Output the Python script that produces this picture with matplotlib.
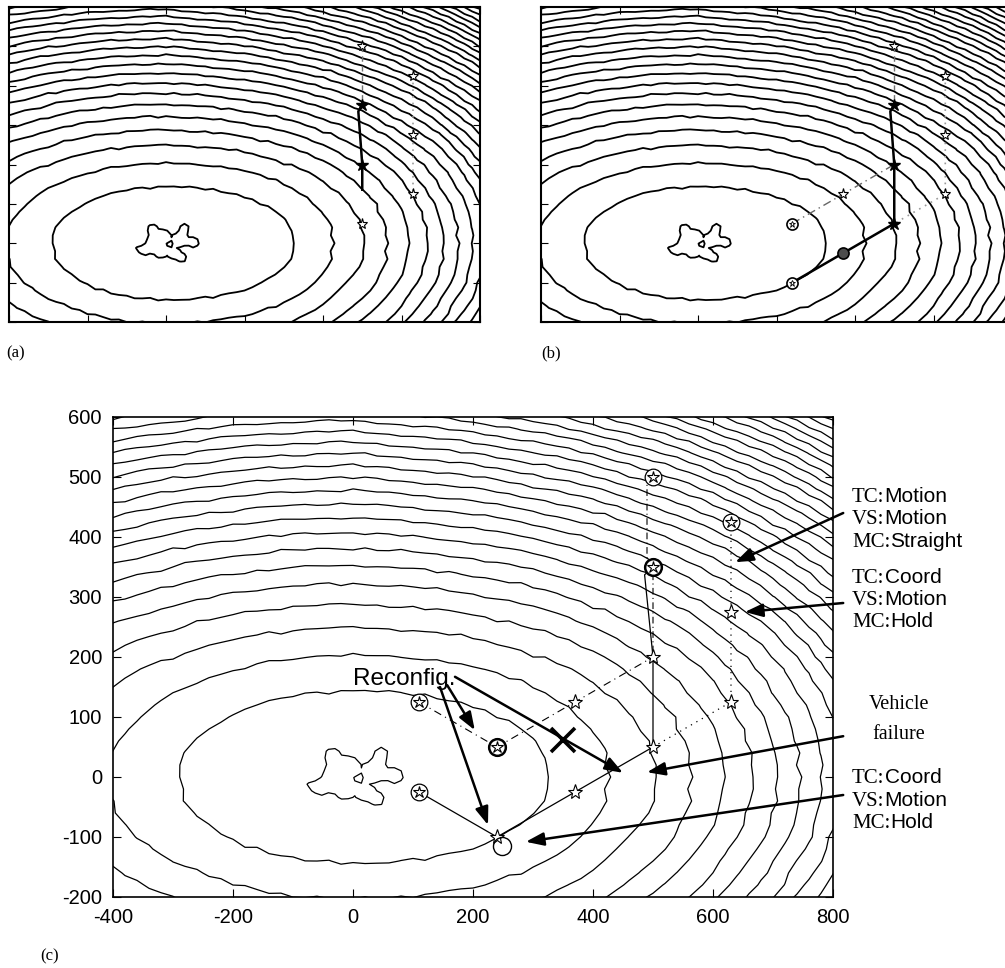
import numpy as np
import matplotlib.pyplot as plt

plt.rcParams["axes.unicode_minus"] = False

W, H = 1005, 968

SEMI_X_LEFT = 290.0
SEMI_X_RIGHT = 325.0
POW_RIGHT = 2.5
SEMI_Y = 144.0
STRETCH_Y = 0.2
LEVELS = np.arange(1, 45)
CENTRE_LEVEL = -0.02

# local dips near the minimum that give the ragged inner contour
DIP_X = [-78, -55, -30, -35, -5, -15, 20, 42, 38, 48, 72]
DIP_Y = [-15, -20, 5, 40, 22, -25, -30, -40, 12, 42, 2]
DIP_DEPTH = [0.10, 0.16, 0.16, 0.2, 0.16, 0.16, 0.16, 0.2, 0.18, 0.24, 0.2]
DIP_WIDTH = [10, 16, 16, 16, 14, 16, 14, 14, 16, 14, 14]

# ---- vehicle positions, panel (c) ----
CIRCLED_X = [500, 630, 110, 110]
CIRCLED_Y = [500, 425, 125, -25]
CIRCLED_BOLD_X = [500, 240]
CIRCLED_BOLD_Y = [350, 50]
STAR_X = [500, 630, 630, 370, 500, 370, 240]
STAR_Y = [200, 275, 125, 125, 50, -25, -100]

# paths
SOLID_X = [500, 486, 500, 500, 370, 240]
SOLID_Y = [350, 337, 200, 50, -25, -100]
SOLID2_X = [110, 240]
SOLID2_Y = [-25, -100]
DASHDOT_X = [110, 240, 370, 500]
DASHDOT_Y = [125, 50, 125, 200]
TOP_DASH_X = [500, 490, 490, 500, 500]
TOP_DASH_Y = [500, 488, 360, 350, 200]
DOTTED_X = [630, 630, 630, 500]
DOTTED_Y = [425, 275, 125, 50]

FAIL_X, FAIL_Y = [248], [-115]
CROSS_X, CROSS_Y = [350], [62]

# ---- panel (a) ----
A_OPEN_X = [500, 630, 630, 630, 500]
A_OPEN_Y = [500, 425, 275, 125, 50]
A_FILL_X = [500, 500]
A_FILL_Y = [350, 200]
A_DASH_X = [500, 500]
A_DASH_Y = [500, 350]
A_SOLID_X = [500, 490, 500, 500]
A_SOLID_Y = [350, 335, 200, 136]
A_DOT_X = [630, 630]
A_DOT_Y = [425, 125]

# ---- panel (b) ----
B_OPEN_X = [500, 370, 630, 630, 630]
B_OPEN_Y = [500, 125, 425, 275, 125]
B_FILL_X = [500, 500, 500]
B_FILL_Y = [350, 200, 50]
B_CIRC_X = [240, 240]
B_CIRC_Y = [50, -100]
B_CIRC_FILL_X = [370]
B_CIRC_FILL_Y = [-25]
B_SOLID_X = [500, 490, 500, 500, 370, 240]
B_SOLID_Y = [350, 335, 200, 50, -25, -100]
B_DASHDOT_X = [240, 370, 500]
B_DASHDOT_Y = [50, 125, 200]
B_DOT_X = [630, 630, 500]
B_DOT_Y = [425, 125, 50]


def field():
    xs = np.arange(-420, 841, 20.0)
    ys = np.arange(-220, 641, 20.0)
    X, Y = np.meshgrid(xs, ys)
    I, J = np.meshgrid(np.arange(len(xs)), np.arange(len(ys)))
    wobble = (0.018 * np.sin(2.7 * I + 1.3) * np.cos(3.1 * J + 0.2)
              + 0.014 * np.sin(1.9 * I - 2.3 * J + 0.5)
              + 0.007 * np.sin(0.7 * I + 0.4 * J))
    gx = np.where(X >= 0, (np.abs(X) / SEMI_X_RIGHT) ** POW_RIGHT,
                  (X / SEMI_X_LEFT) ** 2)
    gy = (Y / SEMI_Y) ** 2 * (1 + STRETCH_Y * np.clip(X, 0, None) / 800)
    s = np.sqrt(gx + gy) + wobble
    F = np.sign(s) * s ** 2
    return X, Y, F


def centre_field():
    # coarser grid gives the angular look of the inner contour
    xs = np.arange(-140, 141, 11.0)
    ys = np.arange(-100, 101, 11.0)
    X, Y = np.meshgrid(xs, ys)
    F = (X / SEMI_X_LEFT) ** 2 + (Y / SEMI_Y) ** 2
    for dx, dy, dd, dw in zip(DIP_X, DIP_Y, DIP_DEPTH, DIP_WIDTH):
        F = F - dd * np.exp(-((X - dx) ** 2 + (Y - dy) ** 2) / dw ** 2)
    return X, Y, F


def setup(ax, labels, spine_w):
    ax.set_xlim(-400, 800)
    ax.set_ylim(-200, 600)
    ax.set_xticks(np.arange(-400, 801, 200))
    ax.set_yticks(np.arange(-200, 601, 100))
    ax.tick_params(direction="in", top=True, right=True, length=5,
                   labelbottom=labels, labelleft=labels)
    for sp in ax.spines.values():
        sp.set_linewidth(spine_w)


X, Y, F = field()
CX, CY, CF = centre_field()

fig = plt.figure(figsize=(W / 100, H / 100), dpi=100)
ax_a = fig.add_axes([9 / W, 1 - 322 / H, 471 / W, 315 / H])
ax_b = fig.add_axes([541 / W, 1 - 322 / H, 471 / W, 315 / H])
ax_c = fig.add_axes([113 / W, 1 - 897 / H, 720 / W, 480 / H])

for ax, lw in [(ax_a, 1.3), (ax_b, 1.3), (ax_c, 0.9)]:
    ax.contour(X, Y, F, levels=list(LEVELS), colors="k", linewidths=lw)
    ax.contour(CX, CY, CF, levels=[CENTRE_LEVEL], colors="k", linewidths=lw,
               linestyles="solid")

star = dict(marker="*", linestyle="none", mfc="white", mec="k")

# panel (a)
setup(ax_a, False, 1.5)
ax_a.plot(A_DASH_X, A_DASH_Y, color="0.45", lw=1, ls=(0, (4, 3)))
ax_a.plot(A_DOT_X, A_DOT_Y, color="0.6", lw=1.2, ls=(0, (1, 3)))
ax_a.plot(A_SOLID_X, A_SOLID_Y, color="k", lw=1.8)
ax_a.plot(A_OPEN_X, A_OPEN_Y, ms=8, mew=0.8, **star)
ax_a.plot(A_FILL_X, A_FILL_Y, marker="*", ls="none", color="k", ms=9)

# panel (b)
setup(ax_b, False, 1.5)
ax_b.plot(A_DASH_X, A_DASH_Y, color="0.45", lw=1, ls=(0, (4, 3)))
ax_b.plot(B_DASHDOT_X, B_DASHDOT_Y, color="0.4", lw=1, ls=(0, (6, 3, 1, 3)))
ax_b.plot(B_DOT_X, B_DOT_Y, color="0.6", lw=1.2, ls=(0, (1, 3)))
ax_b.plot(B_SOLID_X, B_SOLID_Y, color="k", lw=1.8)
ax_b.plot(B_OPEN_X, B_OPEN_Y, ms=8, mew=0.8, **star)
ax_b.plot(B_FILL_X, B_FILL_Y, marker="*", ls="none", color="k", ms=9)
ax_b.plot(B_CIRC_X, B_CIRC_Y, marker="o", ls="none", mfc="white", mec="k", ms=8, mew=1.2)
ax_b.plot(B_CIRC_X, B_CIRC_Y, ms=5, mew=0.6, **star)
ax_b.plot(B_CIRC_FILL_X, B_CIRC_FILL_Y, marker="o", ls="none", mfc="0.3", mec="k", ms=8, mew=1.2)

# panel (c)
setup(ax_c, True, 1.2)
ax_c.plot(TOP_DASH_X, TOP_DASH_Y, color="k", lw=0.8, ls=(0, (6, 3, 1, 3)))
ax_c.plot(DASHDOT_X, DASHDOT_Y, color="k", lw=0.8, ls=(0, (7, 4, 1, 4)))
ax_c.plot(DOTTED_X, DOTTED_Y, color="k", lw=0.9, ls=(0, (1, 4)))
ax_c.plot(SOLID_X, SOLID_Y, color="k", lw=0.9)
ax_c.plot(SOLID2_X, SOLID2_Y, color="k", lw=0.9)
ax_c.plot(CIRCLED_X, CIRCLED_Y, marker="o", ls="none", mfc="white", mec="k", ms=12, mew=0.9)
ax_c.plot(CIRCLED_BOLD_X, CIRCLED_BOLD_Y, marker="o", ls="none", mfc="white", mec="k", ms=12, mew=1.8)
ax_c.plot(CIRCLED_X + CIRCLED_BOLD_X, CIRCLED_Y + CIRCLED_BOLD_Y, ms=9, mew=0.8, **star)
ax_c.plot(STAR_X, STAR_Y, ms=11, mew=0.8, **star)
ax_c.plot(FAIL_X, FAIL_Y, marker="o", ls="none", mfc="none", mec="k", ms=13, mew=1.0)
ax_c.plot(CROSS_X, CROSS_Y, marker="x", ls="none", color="k", ms=17, mew=2.6)

for lab in ax_c.get_xticklabels() + ax_c.get_yticklabels():
    lab.set_fontfamily("Liberation Sans")
    lab.set_fontsize(14.5)
ax_c.tick_params(pad=8, length=6)

head = "-|>,head_length=0.6,head_width=0.22"


def arrow(start, end):
    ax_c.annotate("", xy=end, xytext=start, annotation_clip=False,
                  arrowprops=dict(arrowstyle=head, mutation_scale=18, lw=1.8,
                                  color="k", shrinkA=0, shrinkB=0))


# reconfiguration note
ax_c.text(0, 153, "Reconfig.", fontsize=17.5, family="Liberation Sans",
          va="baseline", ha="left")
arrow((170, 167), (450, 7))
arrow((157, 153), (203, 78))
arrow((145, 150), (225, -80))

# right-hand notes
arrow((817, 440), (637, 358))
arrow((817, 290), (653, 275))
arrow((817, 68), (490, 8))
arrow((817, -30), (288, -108))

renderer = fig.canvas.get_renderer()


def mixed_line(x_px, base_px, head_txt, tail_txt, size=15):
    t = fig.text(x_px / W, 1 - base_px / H, head_txt, family="Liberation Serif",
                 fontsize=size, va="baseline", ha="left")
    w = t.get_window_extent(renderer).width
    fig.text((x_px + w) / W, 1 - base_px / H, tail_txt, family="Liberation Sans",
             fontsize=size, va="baseline", ha="left")


notes = [
    (502, "TC:", "Motion"), (524, "VS:", "Motion"), (547, "MC:", "Straight"),
    (583, "TC:", "Coord"), (605, "VS:", "Motion"), (627, "MC:", "Hold"),
    (783, "TC:", "Coord"), (806, "VS:", "Motion"), (828, "MC:", "Hold"),
]
for base, a, b in notes:
    mixed_line(852, base, a, b)

fig.text(899 / W, 1 - 709 / H, "Vehicle", family="Liberation Serif",
         fontsize=14.5, ha="center", va="baseline")
fig.text(899 / W, 1 - 739 / H, "failure", family="Liberation Serif",
         fontsize=14.5, ha="center", va="baseline")

# panel tags
for x_px, y_px, tag in [(6, 357, "(a)"), (541, 357, "(b)"), (40, 960, "(c)")]:
    fig.text(x_px / W, 1 - y_px / H, tag, family="Liberation Serif",
             fontsize=12, ha="left", va="baseline")

fig.savefig("out.png", dpi=100)
